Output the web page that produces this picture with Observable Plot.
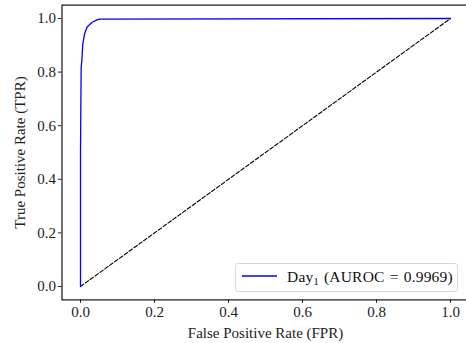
<!DOCTYPE html>
<html>
<head>
<meta charset="utf-8">
<script src="https://cdn.jsdelivr.net/npm/d3@7"></script>
<script src="https://cdn.jsdelivr.net/npm/@observablehq/plot@0.6"></script>
<style>
  html, body { margin: 0; padding: 0; background: #fff; }
  #wrap { position: relative; width: 466px; height: 343px; overflow: hidden; font-family: 'Liberation Serif', serif; }
  #wrap svg text { font-family: 'Liberation Serif', serif !important; }
  #legend { position: absolute; left: 235px; top: 263px; width: 223px; height: 29px; box-sizing: border-box;
    border: 1px solid #d9d9d9; border-radius: 3px; background: rgba(255,255,255,0.8);
    font-family: 'Liberation Serif', serif; font-size: 15.5px; color: #111; }
  #legend svg.sw { position: absolute; left: 6px; top: 10px; }
  #legend .lab { position: absolute; left: 51px; top: 4px; white-space: nowrap; letter-spacing: 0.2px; word-spacing: 1px; }
  #legend sub { font-size: 10.5px; vertical-align: -3px; line-height: 0; }
</style>
</head>
<body>
<div id="wrap"></div>
<script>
// ROC curve (FPR, TPR) for Day1
const fpr = [0, 0, 0.0018, 0.0036, 0.0063, 0.011, 0.018, 0.025, 0.032, 0.042, 0.05, 1.0];
const tpr = [0, 0.5, 0.818, 0.843, 0.905, 0.943, 0.968, 0.978, 0.986, 0.993, 0.998, 1.0];
const chanceX = [0, 1];
const chanceY = [0, 1];
const xTicks = [0, 0.2, 0.4, 0.6, 0.8, 1.0];
const yTicks = [0, 0.2, 0.4, 0.6, 0.8, 1.0];
const seriesLabel = "Day";
const seriesSub = "1";
const aurocText = " (AUROC = 0.9969)";

const roc = fpr.map((x, i) => ({x, y: tpr[i]}));
const chance = chanceX.map((x, i) => ({x, y: chanceY[i]}));

const chart = Plot.plot({
  width: 466,
  height: 343,
  marginLeft: 61.5,
  marginRight: -2.5,
  marginTop: 4.6,
  marginBottom: 43.6,
  style: "font-family: 'Liberation Serif', serif; font-size: 15px; color: #222; background: #fff;",
  x: {domain: [-0.05, 1.05], ticks: xTicks, tickFormat: d => d.toFixed(1), tickSize: 3.5, tickPadding: 2.5,
      label: "False Positive Rate (FPR)", labelAnchor: "center", labelArrow: "none", labelOffset: 38},
  y: {domain: [-0.05, 1.05], ticks: yTicks, tickFormat: d => d.toFixed(1), tickSize: 3.5, tickPadding: 2.5,
      label: "True Positive Rate (TPR)", labelAnchor: "center", labelArrow: "none", labelOffset: 48},
  marks: [
    Plot.line(chance, {x: "x", y: "y", stroke: "black", strokeWidth: 1.1, strokeDasharray: "4,2"}),
    Plot.line(roc, {x: "x", y: "y", stroke: "#0000ff", strokeWidth: 1.3}),
    Plot.frame({stroke: "black", strokeWidth: 1.1})
  ]
});
const wrap = document.getElementById("wrap");
wrap.appendChild(chart);

const leg = document.createElement("div");
leg.id = "legend";
leg.innerHTML = `<svg class="sw" width="36" height="4"><line x1="0" y1="2" x2="35" y2="2" stroke="#0000ff" stroke-width="1.3"/></svg><div class="lab">${seriesLabel}<sub>${seriesSub}</sub>${aurocText}</div>`;
wrap.appendChild(leg);
</script>
</body>
</html>
